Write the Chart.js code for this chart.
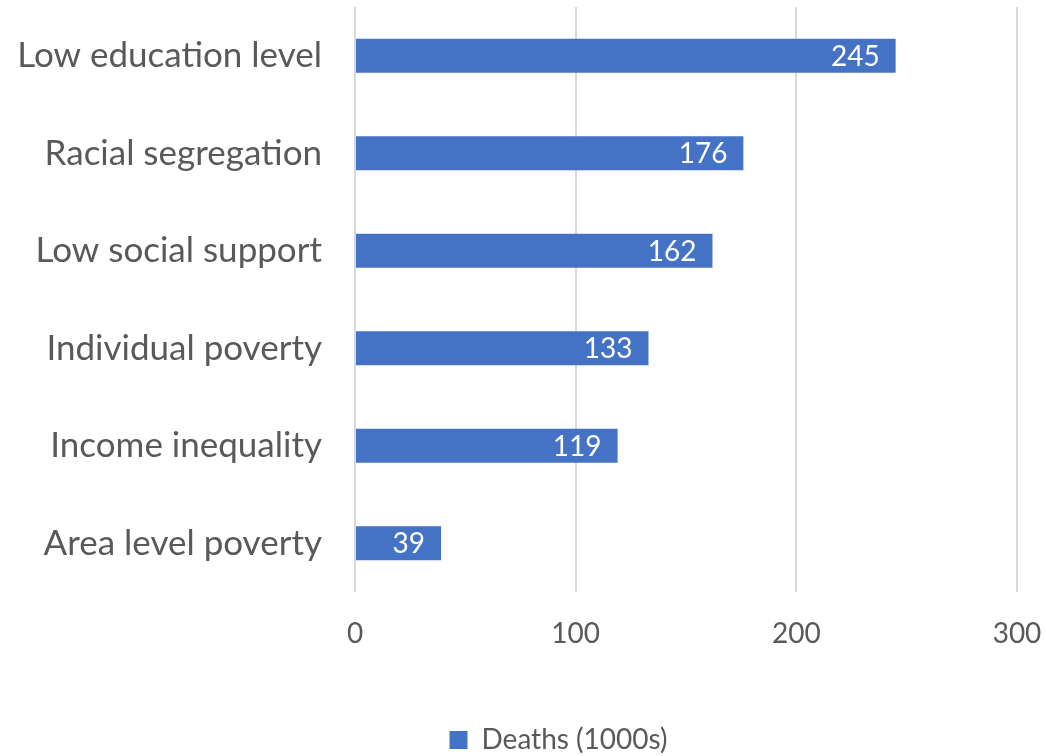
<!DOCTYPE html>
<html>
<head>
<meta charset="utf-8">
<script src="https://cdn.jsdelivr.net/npm/chart.js@4/dist/chart.umd.min.js"></script>
<style>
  html, body { margin: 0; padding: 0; background: #fff; }
  #wrap { width: 1046px; height: 756px; }
</style>
</head>
<body>
<div id="wrap"><canvas id="chart"></canvas></div>
<script>
const categories = [
    'Low education level',
    'Racial segregation',
    'Low social support',
    'Individual poverty',
    'Income inequality',
    'Area level poverty'
];
const deaths = [245, 176, 162, 133, 119, 39];
const seriesName = 'Deaths (1000s)';
const xTicks = [0, 100, 200, 300];

const FONT = 'Lato, "Open Sans", sans-serif';
const GREY = '#595959';

// white value labels drawn inside the end of each bar
const barValues = {
    id: 'barValues',
    afterDatasetsDraw(chart) {
        const ctx = chart.ctx;
        const meta = chart.getDatasetMeta(0);
        ctx.save();
        ctx.fillStyle = '#ffffff';
        ctx.font = '28px ' + FONT;
        ctx.textAlign = 'right';
        ctx.textBaseline = 'middle';
        meta.data.forEach((bar, i) => {
            ctx.fillText(String(chart.data.datasets[0].data[i]), bar.x - 16, bar.y + 1);
        });
        ctx.restore();
    }
};

// legend sits centred under the plot area rather than the whole canvas
const legendShift = {
    id: 'legendShift',
    afterLayout(chart) {
        const lg = chart.legend;
        lg.left += 50;
        lg.right += 50;
        lg.top += 8;
        lg.bottom += 8;
    }
};

// keep the axes from reserving extra room for overhanging labels
const noScalePadding = function (scale) {
    scale.paddingTop = 0;
    scale.paddingBottom = 0;
    scale.paddingLeft = 0;
    scale.paddingRight = 0;
};

const ctx = document.getElementById('chart').getContext('2d');
const chart = new Chart(ctx, {
    type: 'bar',
    data: {
        labels: categories,
        datasets: [{
            label: seriesName,
            data: deaths,
            backgroundColor: '#4472c4',
            barPercentage: 0.35,
            categoryPercentage: 1.0
        }]
    },
    options: {
        indexAxis: 'y',
        responsive: true,
        maintainAspectRatio: false,
        animation: false,
        layout: { padding: { top: 7, right: 29, left: 0, bottom: 0 } },
        scales: {
            x: {
                min: 0,
                max: 300,
                afterBuildTicks(scale) {
                    scale.ticks = xTicks.map(v => ({ value: v }));
                },
                afterFit(scale) {
                    scale.height = 120;
                    noScalePadding(scale);
                },
                grid: { color: '#d9d9d9', lineWidth: 2, drawTicks: false },
                border: { display: false },
                ticks: { color: GREY, padding: 25, font: { family: FONT, size: 28 } }
            },
            y: {
                afterFit(scale) {
                    scale.width = 355;
                    noScalePadding(scale);
                },
                grid: { display: false, drawTicks: false },
                border: { display: false },
                ticks: { color: GREY, padding: 33, font: { family: FONT, size: 35 } }
            }
        },
        plugins: {
            legend: {
                position: 'bottom',
                labels: {
                    color: GREY,
                    boxWidth: 18,
                    boxHeight: 18,
                    padding: 6,
                    font: { family: FONT, size: 28 }
                }
            },
            tooltip: { enabled: false }
        }
    },
    plugins: [barValues, legendShift]
});
</script>
</body>
</html>
